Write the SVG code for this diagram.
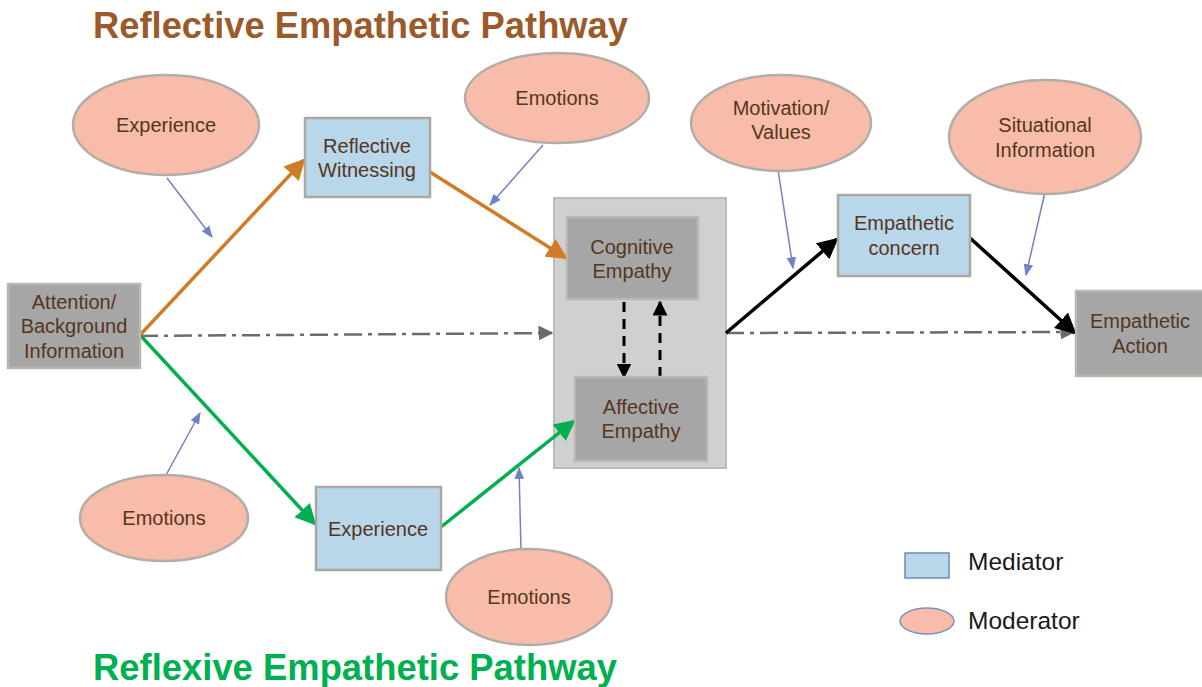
<svg xmlns="http://www.w3.org/2000/svg" width="1202" height="687" viewBox="0 0 1202 687">
<defs>
<style>
.t{font-family:"Liberation Sans",Arial,sans-serif;font-size:20px;fill:#553520;text-anchor:middle}
.gbox{fill:#a6a6a6;stroke:#bdb6ae;stroke-width:2.5}
.bbox{fill:#b8d7ea;stroke:#aca7a1;stroke-width:2.5}
.ell{fill:#f8bcaa;stroke:#b3ada8;stroke-width:2.5}
.or{stroke:#d07b25;stroke-width:3.5;fill:none}
.gr{stroke:#00b050;stroke-width:3.5;fill:none}
.bk{stroke:#000;stroke-width:3.5;fill:none}
.dd{stroke:#6b6b6b;stroke-width:2.5;fill:none;stroke-dasharray:18 6 4 6}
.bl{stroke:#7382c4;stroke-width:1.5;fill:none}
.ds{stroke:#000;stroke-width:3;fill:none;stroke-dasharray:10 7}
.leg{font-family:"Liberation Sans",Arial,sans-serif;font-size:24.5px;fill:#1a1a1a}
.ttl{font-family:"Liberation Sans",Arial,sans-serif;font-weight:bold;font-size:36px}
</style>
<marker id="mo" viewBox="0 0 10 10" refX="9" refY="5" markerWidth="6" markerHeight="6" orient="auto"><path d="M0,0 L10,5 L0,10 z" fill="#d07b25"/></marker>
<marker id="mg" viewBox="0 0 10 10" refX="9" refY="5" markerWidth="6" markerHeight="6" orient="auto"><path d="M0,0 L10,5 L0,10 z" fill="#00b050"/></marker>
<marker id="mk" viewBox="0 0 10 10" refX="9" refY="5" markerWidth="6" markerHeight="6" orient="auto"><path d="M0,0 L10,5 L0,10 z" fill="#000"/></marker>
<marker id="md" viewBox="0 0 10 10" refX="9" refY="5" markerWidth="5" markerHeight="5" orient="auto"><path d="M0,0 L10,5 L0,10 z" fill="#000"/></marker>
<marker id="mgr" viewBox="0 0 10 10" refX="9" refY="5" markerWidth="6" markerHeight="6" orient="auto"><path d="M0,0 L10,5 L0,10 z" fill="#6b6b6b"/></marker>
<marker id="mb" viewBox="0 0 10 10" refX="9" refY="5" markerWidth="8" markerHeight="8" orient="auto"><path d="M0,1 L10,5 L0,9 z" fill="#7382c4"/></marker>
</defs>
<rect width="1202" height="687" fill="#fff"/>
<text class="ttl" x="93" y="38" fill="#9c5a2b" textLength="535" lengthAdjust="spacingAndGlyphs">Reflective Empathetic Pathway</text>
<text class="ttl" x="93" y="680" fill="#00b050" textLength="524" lengthAdjust="spacingAndGlyphs">Reflexive Empathetic Pathway</text>

<g id="container"><rect x="554" y="198" width="172" height="270" fill="#d0d0d0" stroke="#bbbbbb" stroke-width="2"/></g>

<g id="connectors">
<line class="or" x1="140" y1="335" x2="304" y2="160" marker-end="url(#mo)"/>
<line class="or" x1="430" y1="172" x2="566" y2="258" marker-end="url(#mo)"/>
<line class="gr" x1="140" y1="335" x2="315" y2="524" marker-end="url(#mg)"/>
<line class="gr" x1="441" y1="527" x2="574" y2="421" marker-end="url(#mg)"/>
<line class="dd" x1="140" y1="336" x2="552" y2="333" marker-end="url(#mgr)"/>
<line class="dd" x1="726" y1="333" x2="1074" y2="332" marker-end="url(#mgr)"/>
<line class="bk" x1="726" y1="333" x2="837" y2="239" marker-end="url(#mk)"/>
<line class="bk" x1="970" y1="238" x2="1075" y2="333" marker-end="url(#mk)"/>
<line class="ds" x1="624" y1="302" x2="624" y2="377" marker-end="url(#md)"/>
<line class="ds" x1="660" y1="377" x2="660" y2="302" marker-end="url(#md)"/>
<line class="bl" x1="167" y1="178" x2="212" y2="237" marker-end="url(#mb)"/>
<line class="bl" x1="543" y1="145" x2="490" y2="205" marker-end="url(#mb)"/>
<line class="bl" x1="777" y1="163" x2="793" y2="268" marker-end="url(#mb)"/>
<line class="bl" x1="1045" y1="192" x2="1026" y2="275" marker-end="url(#mb)"/>
<line class="bl" x1="166" y1="475" x2="200" y2="413" marker-end="url(#mb)"/>
<line class="bl" x1="521" y1="550" x2="519" y2="468" marker-end="url(#mb)"/>
</g>

<g id="attention"><rect class="gbox" x="8" y="284" width="132" height="84"/><text class="t" x="74" y="309">Attention/</text><text class="t" x="74" y="333">Background</text><text class="t" x="74" y="358">Information</text></g>
<g id="reflective-witnessing"><rect class="bbox" x="305" y="118" width="125" height="79"/><text class="t" x="367" y="153">Reflective</text><text class="t" x="367" y="177">Witnessing</text></g>
<g id="experience-med"><rect class="bbox" x="316" y="487" width="125" height="83"/><text class="t" x="378" y="536">Experience</text></g>
<g id="cognitive"><rect class="gbox" x="567" y="217" width="131" height="82"/><text class="t" x="632" y="254">Cognitive</text><text class="t" x="632" y="278">Empathy</text></g>
<g id="affective"><rect class="gbox" x="575" y="377" width="132" height="84"/><text class="t" x="641" y="414">Affective</text><text class="t" x="641" y="438">Empathy</text></g>
<g id="concern"><rect class="bbox" x="838" y="195" width="132" height="81"/><text class="t" x="904" y="230">Empathetic</text><text class="t" x="904" y="255">concern</text></g>
<g id="action"><rect class="gbox" x="1076" y="291" width="128" height="85"/><text class="t" x="1140" y="328">Empathetic</text><text class="t" x="1140" y="353">Action</text></g>

<g id="experience-mod"><ellipse class="ell" cx="166" cy="125" rx="93" ry="50"/><text class="t" x="166" y="132">Experience</text></g>
<g id="emotions-top"><ellipse class="ell" cx="557" cy="98" rx="92" ry="45"/><text class="t" x="557" y="105">Emotions</text></g>
<g id="motivation"><ellipse class="ell" cx="781" cy="123" rx="90" ry="48"/><text class="t" x="781" y="115">Motivation/</text><text class="t" x="781" y="139">Values</text></g>
<g id="situational"><ellipse class="ell" cx="1045" cy="137" rx="96" ry="57"/><text class="t" x="1045" y="132">Situational</text><text class="t" x="1045" y="157">Information</text></g>
<g id="emotions-left"><ellipse class="ell" cx="164" cy="518" rx="84" ry="43"/><text class="t" x="164" y="525">Emotions</text></g>
<g id="emotions-bottom"><ellipse class="ell" cx="529" cy="597" rx="83" ry="48"/><text class="t" x="529" y="604">Emotions</text></g>

<g id="legend">
<rect x="905" y="553" width="44" height="25" fill="#b8d7ea" stroke="#6d8db5" stroke-width="1.5"/>
<text class="leg" x="968" y="570">Mediator</text>
<ellipse cx="927" cy="621" rx="27" ry="13" fill="#f8bcaa" stroke="#7b8fc0" stroke-width="1.5"/>
<text class="leg" x="968" y="629">Moderator</text>
</g>
</svg>
